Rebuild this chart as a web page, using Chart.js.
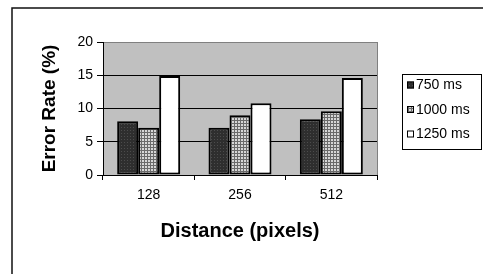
<!DOCTYPE html>
<html>
<head>
<meta charset="utf-8">
<script src="https://cdn.jsdelivr.net/npm/chart.js@4"></script>
<style>
  html, body { margin: 0; padding: 0; background: #fff; }
  #wrap { width: 483px; height: 274px; }
</style>
</head>
<body>
<div id="wrap"><canvas id="chart" width="483" height="274"></canvas></div>
<script>
const categories = ['128', '256', '512'];
const seriesLabels = ['750 ms', '1000 ms', '1250 ms'];
const values750 = [8.1, 7.1, 8.4];
const values1000 = [7.1, 9.0, 9.6];
const values1250 = [14.9, 10.8, 14.6];
const yTicks = [0, 5, 10, 15, 20];

const FONT = '"Liberation Sans", Arial, sans-serif';

// small tiles for the hatched fills
function makePattern(bg, fg, draw) {
  const c = document.createElement('canvas');
  c.width = 3; c.height = 3;
  const g = c.getContext('2d');
  g.fillStyle = bg;
  g.fillRect(0, 0, 3, 3);
  g.fillStyle = fg;
  draw(g);
  return document.getElementById('chart').getContext('2d').createPattern(c, 'repeat');
}

const darkFill = makePattern('#2e2e2e', '#4c4c4c', g => g.fillRect(1, 1, 1, 1));
const gridFill = makePattern('#d6d6d6', '#6a6a6a', g => { g.fillRect(0, 0, 3, 1); g.fillRect(0, 0, 1, 3); });
const fills = [darkFill, gridFill, '#ffffff'];

// gray plot area, outer frame, right border of the plot
const backdrop = {
  id: 'backdrop',
  beforeDraw(chart) {
    const { ctx, chartArea: a } = chart;
    ctx.save();
    ctx.fillStyle = '#c0c0c0';
    ctx.fillRect(a.left, a.top, a.right - a.left, a.bottom - a.top);
    ctx.strokeStyle = '#111';
    ctx.lineWidth = 1.5;
    ctx.strokeRect(12, 8, 500, 300);
    ctx.restore();
  },
  beforeDatasetsDraw(chart) {
    const { ctx, chartArea: a } = chart;
    ctx.save();
    ctx.strokeStyle = '#808080';
    ctx.lineWidth = 1;
    ctx.beginPath();
    ctx.moveTo(a.right + 0.5, a.top);
    ctx.lineTo(a.right + 0.5, a.bottom);
    ctx.stroke();
    ctx.restore();
  }
};

// boxed legend on the right
const boxLegend = {
  id: 'boxLegend',
  afterDraw(chart) {
    const { ctx } = chart;
    const x = 402, y = 74, w = 79, h = 75;
    ctx.save();
    ctx.fillStyle = '#fff';
    ctx.fillRect(x, y, w, h);
    ctx.strokeStyle = '#000';
    ctx.lineWidth = 1;
    ctx.strokeRect(x + 0.5, y + 0.5, w, h);
    ctx.font = '14px ' + FONT;
    ctx.textBaseline = 'middle';
    chart.data.datasets.forEach((ds, i) => {
      const cy = 85 + i * 24.5;
      ctx.fillStyle = ds.backgroundColor;
      ctx.fillRect(407, cy - 3.5, 7, 7);
      ctx.strokeStyle = '#000';
      ctx.strokeRect(407.5, cy - 3, 6, 6);
      ctx.fillStyle = '#000';
      ctx.fillText(ds.label, 416, cy + 0.5);
    });
    ctx.restore();
  }
};

new Chart(document.getElementById('chart'), {
  type: 'bar',
  data: {
    labels: categories,
    datasets: [values750, values1000, values1250].map((vals, i) => ({
      label: seriesLabels[i],
      data: vals,
      backgroundColor: fills[i],
      borderColor: '#000',
      borderWidth: 2,
      borderSkipped: false,
      categoryPercentage: 0.69,
      barPercentage: 1.0
    }))
  },
  options: {
    responsive: false,
    animation: false,
    events: [],
    layout: { padding: { top: 42, right: 106, bottom: 0, left: 0 } },
    plugins: {
      legend: { display: false },
      tooltip: { enabled: false }
    },
    scales: {
      x: {
        grid: { drawOnChartArea: false, drawTicks: true, tickLength: 5, tickColor: '#000' },
        border: { color: '#000', width: 1 },
        ticks: { color: '#000', padding: 7, font: { family: FONT, size: 14 } },
        title: {
          display: true,
          text: 'Distance (pixels)',
          color: '#000',
          font: { family: FONT, size: 20, weight: 'bold' },
          padding: { top: 0, bottom: 31 }
        },
        afterFit(scale) { scale.height = 99; }
      },
      y: {
        min: 0,
        max: 20,
        afterBuildTicks(scale) { scale.ticks = yTicks.map(v => ({ value: v })); },
        grid: {
          color: c => (c.tick && c.tick.value === 20 ? '#808080' : '#000'),
          tickColor: '#000',
          tickLength: 6,
          lineWidth: 1
        },
        border: { color: '#000', width: 1 },
        ticks: { color: '#000', padding: 4, font: { family: FONT, size: 14 } },
        title: {
          display: true,
          text: 'Error Rate (%)',
          color: '#000',
          font: { family: FONT, size: 19, weight: 'bold' },
          padding: { top: 38, bottom: 0 }
        },
        afterFit(scale) { scale.width = 103; }
      }
    }
  },
  plugins: [backdrop, boxLegend]
});
</script>
</body>
</html>
